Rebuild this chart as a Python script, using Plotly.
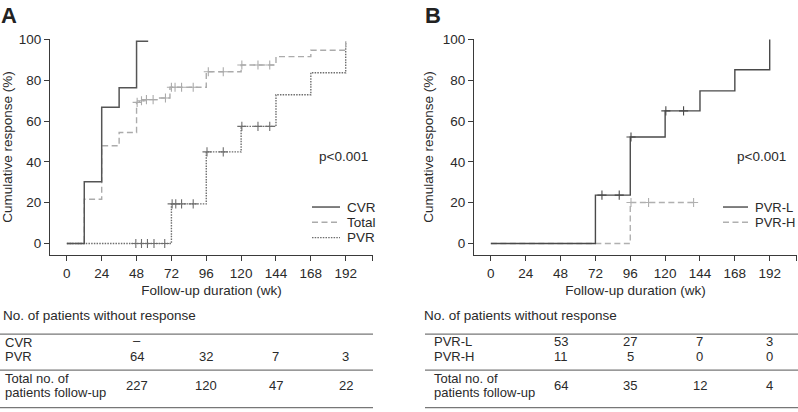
import plotly.graph_objects as go

# ---------------- data ----------------
week_ticks = [0, 24, 48, 72, 96, 120, 144, 168, 192]
pct_ticks = [0, 20, 40, 60, 80, 100]

# Panel A
cvr_t = [0, 12, 24, 36, 48, 56]
cvr_y = [0, 30.3, 66.8, 76.4, 99.1, 99.1]
total_t = [0, 12, 24, 36, 48, 50, 53, 62, 71, 96, 120, 144, 168, 192]
total_y = [0, 21.7, 47.9, 54.4, 69.2, 70.0, 70.5, 71.3, 76.6, 84.2, 87.5, 91.6, 94.7, 99.0]
total_cens = [48.4, 51.4, 54.8, 59.4, 67.9, 72, 74.5, 79, 87, 97.4, 107.7, 120.5, 131.6, 139.7]
pvr_t = [0, 72, 96, 120, 144, 168, 192]
pvr_y = [0, 19.4, 44.9, 57.4, 72.9, 83.7, 99.0]
pvr_cens = [47.5, 51.4, 55.5, 60.0, 67.4, 72.5, 75, 79, 87, 96.5, 107.7, 120.5, 131.6, 139.7]

# Panel B
pvrl_t = [0, 72, 96, 120, 144, 168, 192]
pvrl_y = [0, 23.7, 52.2, 65.0, 74.8, 85.2, 100]
pvrl_cens = [76.5, 88.4, 96.5, 120.5, 132.7]
pvrh_t = [0, 96, 140]
pvrh_y = [0, 20.1, 20.1]
pvrh_cens = [96.5, 108.6, 139.6]

# Risk tables
table_weeks = [48, 96, 144, 192]
a_cvr = ["–", "", "", ""]
a_pvr = ["64", "32", "7", "3"]
a_total = ["227", "120", "47", "22"]
b_pvrl = ["53", "27", "7", "3"]
b_pvrh = ["11", "5", "0", "0"]
b_total = ["64", "35", "12", "4"]

# ---------------- helpers ----------------
FONT = "Liberation Sans, Arial, sans-serif"
FS = 13.5
TFS = 13
TXT = "#2a2a2a"
W, H = 798, 412

STY = {
    "CVR": dict(color="#555555", dash="solid", width=1.5),
    "Total": dict(color="#ababab", dash="6px,3.5px", width=1.4),
    "PVR": dict(color="#6e6e6e", dash="1.5px,1.2px", width=1.4),
    "PVR-L": dict(color="#4a4a4a", dash="solid", width=1.4),
    "PVR-H": dict(color="#b0b0b0", dash="6px,3.5px", width=1.4),
}


def step_at(ts, ys, t):
    v = ys[0]
    for ti, yi in zip(ts, ys):
        if ti <= t:
            v = yi
    return v


def px_y(p):
    return 1 - p / H


fig = go.Figure()


def curve(ts, ys, cens, name, xa, ya):
    s = STY[name]
    fig.add_trace(go.Scatter(
        x=ts, y=ys, mode="lines", line=dict(shape="hv", color=s["color"], dash=s["dash"], width=s["width"]),
        name=name, xaxis=xa, yaxis=ya, showlegend=False, hoverinfo="skip"))
    if cens:
        fig.add_trace(go.Scatter(
            x=cens, y=[step_at(ts, ys, c) for c in cens], mode="markers",
            marker=dict(symbol="cross-thin", size=6.5, line=dict(color=s["color"], width=1.1)),
            showlegend=False, xaxis=xa, yaxis=ya, hoverinfo="skip"))


curve(pvr_t, pvr_y, pvr_cens, "PVR", "x", "y")
curve(total_t, total_y, total_cens, "Total", "x", "y")
curve(cvr_t, cvr_y, [], "CVR", "x", "y")
curve(pvrh_t, pvrh_y, pvrh_cens, "PVR-H", "x2", "y2")
curve(pvrl_t, pvrl_y, pvrl_cens, "PVR-L", "x2", "y2")

xr = [-11.6, 210.8]
yr = [-5.8, 100.48]
ydom = [1 - 253 / H, 1 - 33 / H]
axis_common = dict(showline=True, linecolor="#3a3a3a", linewidth=1, ticks="outside", ticklen=5,
                   tickcolor="#3a3a3a", tickfont=dict(family=FONT, size=FS, color=TXT),
                   showgrid=False, zeroline=False, fixedrange=True)

x_tickvals = week_ticks + [xr[1] - 0.3]
x_ticktext = [str(v) for v in week_ticks] + [""]

xa = dict(axis_common, range=xr, tickvals=x_tickvals, ticktext=x_ticktext,
          title=dict(text="Follow-up duration (wk)", font=dict(family=FONT, size=FS, color=TXT), standoff=6))
ya = dict(axis_common, range=yr, tickvals=pct_ticks, domain=ydom,
          title=dict(text="Cumulative response (%)", font=dict(family=FONT, size=FS, color=TXT), standoff=6))

fig.update_layout(
    width=W, height=H, margin=dict(l=0, r=0, t=0, b=0),
    paper_bgcolor="white", plot_bgcolor="white",
    xaxis=dict(xa, domain=[50 / W, 373 / W], anchor="y"),
    yaxis=dict(ya, anchor="x"),
    xaxis2=dict(xa, domain=[474 / W, 797 / W], anchor="y2"),
    yaxis2=dict(ya, anchor="x2"),
    showlegend=False,
)

ann = []
shapes = []


def text(x, y, s, xref="paper", xanchor="left", size=FS, bold=False, yref="paper"):
    ann.append(dict(x=x, y=y, xref=xref, yref=yref, text=("<b>%s</b>" % s) if bold else s,
                    showarrow=False, xanchor=xanchor, yanchor="middle",
                    font=dict(family=FONT, size=size, color="#222" if bold else TXT)))


# panel letters
text(-1 / W, px_y(10), "A", size=22, bold=True)
text(423 / W, px_y(10), "B", size=22, bold=True)
# p values
text(190.3, 42.5, "p&lt;0.001", xref="x", xanchor="center", yref="y")
text(186.5, 42.5, "p&lt;0.001", xref="x2", xanchor="center", yref="y2")

# legends (drawn as keys)
for i, nm in enumerate(["CVR", "Total", "PVR"]):
    yy = px_y(204 + 15.5 * i)
    s = STY[nm]
    shapes.append(dict(type="line", xref="paper", yref="paper", x0=312 / W, x1=340 / W, y0=yy, y1=yy,
                       line=dict(color=s["color"], width=s["width"], dash=s["dash"])))
    text(345 / W, yy, nm)
for i, nm in enumerate(["PVR-L", "PVR-H"]):
    yy = px_y(204 + 15.5 * i)
    s = STY[nm]
    shapes.append(dict(type="line", xref="paper", yref="paper", x0=723 / W, x1=748 / W, y0=yy, y1=yy,
                       line=dict(color=s["color"], width=s["width"], dash=s["dash"])))
    text(753 / W, yy, nm, size=13)

# Table A
text(1 / W, px_y(314), "No. of patients without response")
text(3 / W, px_y(341), "CVR", size=TFS)
text(3 / W, px_y(356), "PVR", size=TFS)
text(3 / W, px_y(377.5), "Total no. of", size=TFS)
text(3 / W, px_y(392.5), "patients follow-up", size=TFS)
for wk, c, p, t in zip(table_weeks, a_cvr, a_pvr, a_total):
    if c:
        text(wk, px_y(339), c, xref="x", xanchor="center", size=TFS)
    text(wk, px_y(356), p, xref="x", xanchor="center", size=TFS)
    text(wk, px_y(385.5), t, xref="x", xanchor="center", size=TFS)

# Table B
text(422 / W, px_y(314), "No. of patients without response")
text(432 / W, px_y(340.5), "PVR-L", size=TFS)
text(432 / W, px_y(355.5), "PVR-H", size=TFS)
text(432 / W, px_y(377.5), "Total no. of", size=TFS)
text(432 / W, px_y(392.5), "patients follow-up", size=TFS)
for wk, l, h, t in zip(table_weeks, b_pvrl, b_pvrh, b_total):
    text(wk, px_y(340.5), l, xref="x2", xanchor="center", size=TFS)
    text(wk, px_y(355.5), h, xref="x2", xanchor="center", size=TFS)
    text(wk, px_y(385.5), t, xref="x2", xanchor="center", size=TFS)

for x0, x1 in [(0, 373), (425, 798)]:
    for yp in [333, 369.5, 407.5]:
        shapes.append(dict(type="line", xref="paper", yref="paper", x0=x0 / W, x1=x1 / W,
                           y0=px_y(yp), y1=px_y(yp), line=dict(color="#777", width=1.2)))

fig.update_layout(annotations=ann, shapes=shapes)

fig.write_html("out.html", config={"displayModeBar": False},
               post_script="document.body.style.margin='0';document.body.style.overflow='hidden';")
